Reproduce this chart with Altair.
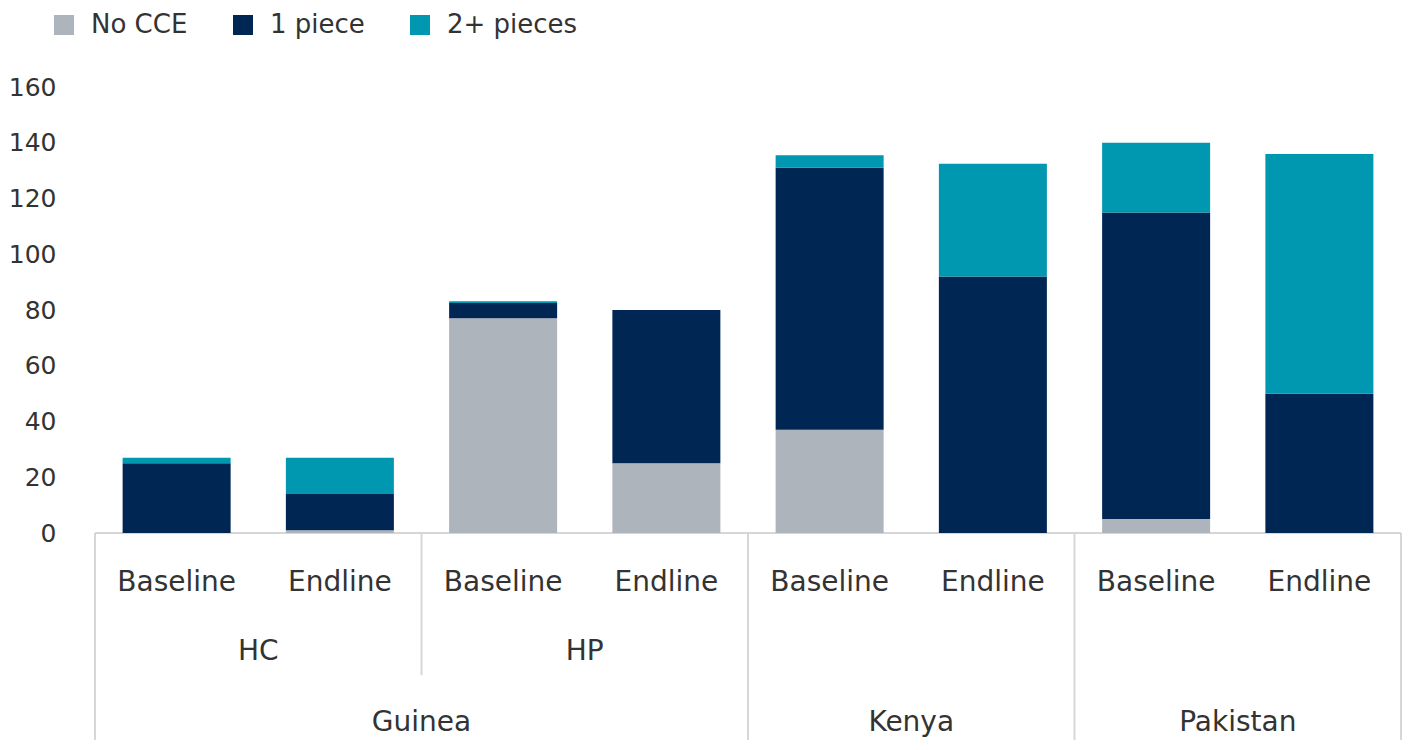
import altair as alt
import pandas as pd

# ---- data ----
periods = ["Baseline", "Endline", "Baseline", "Endline", "Baseline", "Endline", "Baseline", "Endline"]
level2 = ["HC", "HC", "HP", "HP", "", "", "", ""]
level3 = ["Guinea", "Guinea", "Guinea", "Guinea", "Kenya", "Kenya", "Pakistan", "Pakistan"]
series = ["No CCE", "1 piece", "2+ pieces"]
no_cce = [0, 1, 77, 25, 37, 0, 5, 0]
one_piece = [25, 13, 5.5, 55, 94, 92, 110, 50]
two_plus = [2, 13, 0.6, 0, 4.5, 40.5, 25, 86]
y_ticks = [0, 20, 40, 60, 80, 100, 120, 140, 160]
colors = ["#ADB4BB", "#002653", "#0097B1"]

FONT = "DejaVu Sans"
TXT = "#333333"
LINE = "#D6D6D6"
n = len(periods)

rows = []
for i in range(n):
    for s, vals in enumerate([no_cce, one_piece, two_plus]):
        rows.append({"idx": i, "series": series[s], "order": s, "value": vals[i]})
df = pd.DataFrame(rows)

cats = pd.DataFrame({"idx": list(range(n)), "period": periods, "l2": level2, "l3": level3})

long_b = [0] + [i for i in range(1, n) if level3[i] != level3[i - 1]] + [n]
short_b = [i for i in range(1, n) if level3[i] == level3[i - 1] and level2[i] != level2[i - 1]]
seps_long = pd.DataFrame({"b": long_b})
seps_short = pd.DataFrame({"b": short_b})
base = pd.DataFrame({"start": [0], "end": [n]})

xs = alt.Scale(domain=[0, n], nice=False, zero=False)

bars = alt.Chart(df).transform_calculate(center="datum.idx + 0.5").mark_bar(size=108).encode(
    x=alt.X("center:Q", scale=xs, axis=None),
    y=alt.Y("value:Q", stack="zero",
            scale=alt.Scale(domain=[0, 160], nice=False),
            axis=alt.Axis(values=y_ticks, domain=False, ticks=False, grid=False,
                          labelFontSize=25, labelFont=FONT, labelColor=TXT,
                          labelPadding=34, labelFlush=False, title=None)),
    color=alt.Color("series:N", scale=alt.Scale(domain=series, range=colors),
                    legend=alt.Legend(orient="none", legendX=-39, legendY=-75,
                                      direction="horizontal", title=None,
                                      symbolType="square", symbolSize=400,
                                      symbolStrokeWidth=0, labelFontSize=26,
                                      labelFont=FONT, labelColor=TXT,
                                      labelOffset=14, columnPadding=42)),
    order=alt.Order("order:Q", sort="ascending"),
)

baseline_rule = alt.Chart(base).mark_rule(color=LINE, strokeWidth=2).encode(
    x=alt.X("start:Q", scale=xs, axis=None), x2="end:Q", y=alt.value(446))

long_rules = alt.Chart(seps_long).mark_rule(color=LINE, strokeWidth=2).encode(
    x=alt.X("b:Q", scale=xs, axis=None), y=alt.value(446), y2=alt.value(653))

short_rules = alt.Chart(seps_short).mark_rule(color=LINE, strokeWidth=2).encode(
    x=alt.X("b:Q", scale=xs, axis=None), y=alt.value(446), y2=alt.value(588))

txt = dict(font=FONT, fontSize=28, color=TXT, align="center", baseline="middle")

lab1 = alt.Chart(cats).transform_calculate(center="datum.idx + 0.5").mark_text(**txt).encode(
    x=alt.X("center:Q", scale=xs, axis=None), y=alt.value(496), text="period:N")

lab2 = alt.Chart(cats).transform_filter("datum.l2 != ''").transform_calculate(
    center="datum.idx + 0.5").transform_aggregate(
    c="mean(center)", groupby=["l2"]).mark_text(**txt).encode(
    x=alt.X("c:Q", scale=xs, axis=None), y=alt.value(565), text="l2:N")

lab3 = alt.Chart(cats).transform_calculate(center="datum.idx + 0.5").transform_aggregate(
    c="mean(center)", groupby=["l3"]).mark_text(**txt).encode(
    x=alt.X("c:Q", scale=xs, axis=None), y=alt.value(636), text="l3:N")

chart = alt.layer(baseline_rule, long_rules, short_rules, bars, lab1, lab2, lab3).properties(
    width=1316, height=446,
    autosize=alt.AutoSizeParams(type="none"),
    padding={"left": 82, "top": 79, "right": 2, "bottom": 209},
    background="white",
).configure_view(stroke=None)

chart.save("out.html", embed_options={"renderer": "svg", "actions": False})
